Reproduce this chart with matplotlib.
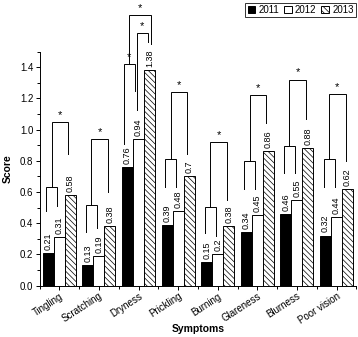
import numpy as np
import matplotlib
matplotlib.use('Agg')
from matplotlib import pyplot as plt
from matplotlib.patches import Patch

plt.rcParams['font.family'] = ['Liberation Sans Narrow', 'Liberation Sans']
plt.rcParams['hatch.linewidth'] = 0.5

symptoms = ['Tingling', 'Scratching', 'Dryness', 'Prickling', 'Burning',
            'Glareness', 'Blurness', 'Poor vision']
score_2011 = [0.21, 0.13, 0.76, 0.39, 0.15, 0.34, 0.46, 0.32]
score_2012 = [0.31, 0.19, 0.94, 0.48, 0.2, 0.45, 0.55, 0.44]
score_2013 = [0.58, 0.38, 1.38, 0.7, 0.38, 0.86, 0.88, 0.62]

# significance brackets: 2011 vs 2012 (no star), then that pair vs 2013 (*)
pair_top = [0.63, 0.515, None, 0.81, 0.505, 0.80, 0.894, 0.81]
pair_leg_2011 = [0.48, 0.345, None, 0.63, 0.335, 0.62, 0.72, 0.63]
pair_leg_2012 = [0.51, 0.37, None, 0.63, 0.32, 0.62, 0.72, 0.63]
star_top = [1.05, 0.94, None, 1.24, 0.92, 1.22, 1.32, 1.23]
star_leg_2013 = [0.84, 0.60, None, 0.84, 0.55, 1.04, 1.07, 0.80]

# Dryness has three starred comparisons
dry_a = (1.42, 0.91, 1.25)    # 2011 vs 2012: top, left leg, right leg
dry_b = (1.62, 1.125, 1.56)   # 2012 vs 2013
dry_c = (1.735, 1.55)         # (2011-2012) vs 2013: top, right leg

fig = plt.figure(figsize=(3.58, 3.37), dpi=100)
ax = fig.add_axes([39.5 / 358, 51.5 / 337, 316.8 / 358, 234 / 337])

x = np.arange(len(symptoms))
w = 0.278
kw = dict(width=w, edgecolor='black', linewidth=0.7)
ax.bar(x - w, score_2011, color='black', **kw)
ax.bar(x, score_2012, color='white', **kw)
ax.bar(x + w, score_2013, color='white', hatch='\\\\\\\\\\\\', **kw)

for off, vals in [(-w, score_2011), (0, score_2012), (w, score_2013)]:
    for xi, v in zip(x, vals):
        ax.text(xi + off, v + 0.02, f'{v:g}', rotation=90, ha='center',
                va='bottom', fontsize=6.5)


def bracket(x1, x2, top, y1, y2, star=False):
    ax.plot([x1, x1, x2, x2], [y1, top, top, y2], color='black', lw=0.7,
            clip_on=False, solid_joinstyle='miter')
    if star:
        ax.text((x1 + x2) / 2, top + 0.045, '*', ha='center', va='center',
                fontsize=8, clip_on=False)


lo = -0.05
for i in range(len(symptoms)):
    if pair_top[i] is None:
        continue
    a, b = x[i] - w + lo, x[i] + lo
    bracket(a, b, pair_top[i], pair_leg_2011[i], pair_leg_2012[i])
    bracket((a + b) / 2, x[i] + w + lo, star_top[i], pair_top[i],
            star_leg_2013[i], star=True)

d = x[2]
a, b = d - w - 0.1, d - 0.1
bracket(a, b, dry_a[0], dry_a[1], dry_a[2], star=True)
bracket(d - 0.05, d + w - 0.05, dry_b[0], dry_b[1], dry_b[2], star=True)
bracket((a + b) / 2, d + w + 0.03, dry_c[0], dry_a[0], dry_c[1], star=True)

ax.set_xlim(-0.5, 7.5)
ax.set_ylim(0, 1.5)
ax.set_yticks(np.arange(0, 1.41, 0.2))
ax.set_yticks(np.arange(0, 1.51, 0.1), minor=True)
ax.set_xticks(x)
ax.set_xticks(np.arange(-0.5, 7.6, 1), minor=True)
ax.set_xticklabels(symptoms, rotation=33, ha='right', rotation_mode='anchor',
                   fontsize=7)
ax.set_yticklabels([f'{t:.1f}' for t in np.arange(0, 1.41, 0.2)], fontsize=7)
ax.tick_params(which='major', length=3, width=0.7, direction='out', pad=1.5)
ax.tick_params(axis='x', which='major', pad=1)
ax.tick_params(which='minor', length=2, width=0.7, direction='out')
for s in ['top', 'right']:
    ax.spines[s].set_visible(False)
for s in ['left', 'bottom']:
    ax.spines[s].set_linewidth(0.7)

ax.set_xlabel('Symptoms', fontsize=7.5, fontweight='bold', labelpad=-1)
ax.set_ylabel('Score', fontsize=7.5, fontweight='bold', labelpad=5)

handles = [Patch(facecolor='black', edgecolor='black', lw=0.7),
           Patch(facecolor='white', edgecolor='black', lw=0.7),
           Patch(facecolor='white', edgecolor='black', lw=0.7,
                 hatch='\\\\\\\\\\\\')]
fig.legend(handles, ['2011', '2012', '2013'], ncol=3,
           loc='upper right', bbox_to_anchor=(356 / 358, 1 - 2.5 / 337),
           fontsize=7, frameon=True, fancybox=False, edgecolor='black',
           handlelength=0.8, handleheight=0.8, handletextpad=0.35,
           columnspacing=0.45, borderpad=0.25, borderaxespad=0)
fig.legends[0].get_frame().set_linewidth(0.7)

fig.savefig('out.png', dpi=100)
